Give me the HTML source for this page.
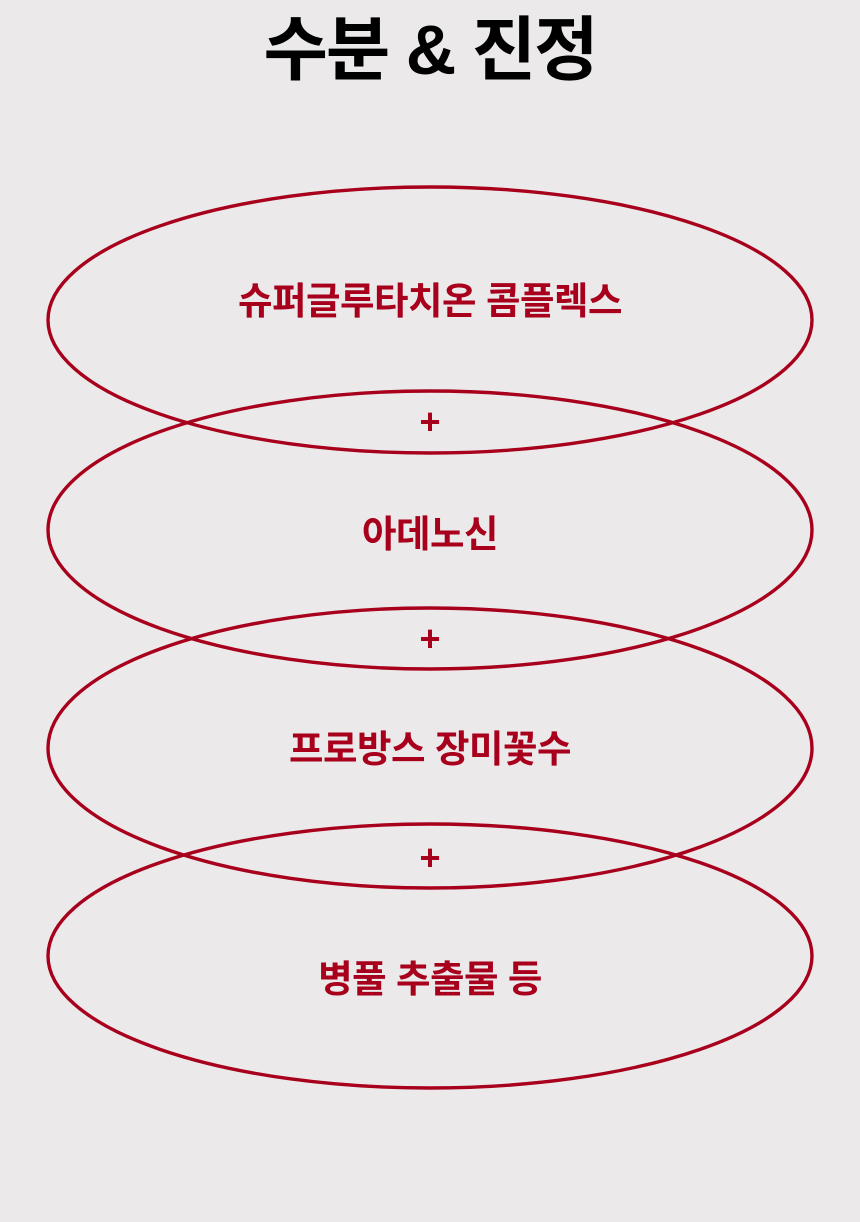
<!DOCTYPE html>
<html><head><meta charset="utf-8"><style>
html,body{margin:0;padding:0;background:#ebe9e9;}
body{width:860px;height:1222px;position:relative;overflow:hidden;font-family:"Liberation Sans","Noto Sans CJK KR",sans-serif;}
.t{position:absolute;left:0;width:860px;text-align:center;font-weight:bold;}
</style></head><body>
<svg width="860" height="1222" style="position:absolute;left:0;top:0">
<g fill="none" stroke="#a8001c" stroke-width="3.4">
<ellipse cx="430" cy="320" rx="382" ry="133"/>
<ellipse cx="430" cy="530" rx="382" ry="139"/>
<ellipse cx="430" cy="748" rx="382" ry="140"/>
<ellipse cx="430" cy="956" rx="382" ry="132"/>
</g>
</svg>
<div class="t" style="top:8px;font-size:70px;line-height:84px;color:#000;letter-spacing:-2px">수분 &amp; 진정</div>
<div class="t" style="top:279px;font-size:37.5px;line-height:44px;color:#a8001c;letter-spacing:-0.5px">슈퍼글루타치온 콤플렉스</div>
<div class="t" style="top:400px;font-size:36px;line-height:44px;color:#a8001c">+</div>
<div class="t" style="top:512px;font-size:37.5px;line-height:44px;color:#a8001c;letter-spacing:-0.5px">아데노신</div>
<div class="t" style="top:617px;font-size:36px;line-height:44px;color:#a8001c">+</div>
<div class="t" style="top:727px;font-size:37.5px;line-height:44px;color:#a8001c;letter-spacing:-0.5px">프로방스 장미꽃수</div>
<div class="t" style="top:836px;font-size:36px;line-height:44px;color:#a8001c">+</div>
<div class="t" style="top:957px;font-size:37.5px;line-height:44px;color:#a8001c;letter-spacing:-0.5px">병풀 추출물 등</div>
</body></html>
